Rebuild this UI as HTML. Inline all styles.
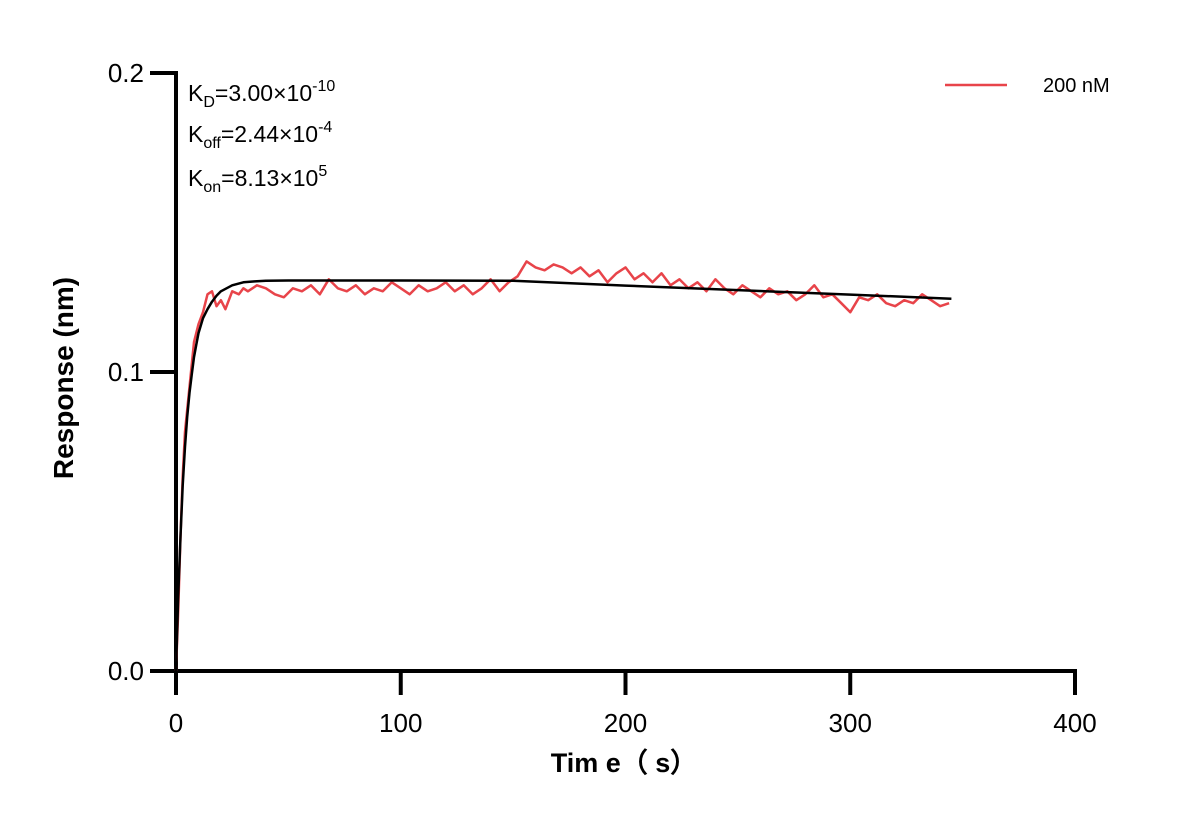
<!DOCTYPE html>
<html><head><meta charset="utf-8"><style>
html,body{margin:0;padding:0;background:#fff;}
svg{display:block;font-family:"Liberation Sans",Arial,sans-serif;}
</style></head><body>
<svg id="chart" width="1187" height="825">
<g id="axes"></g>
<g id="plot"></g>
<g font-size="23" fill="#000">
<text x="188" y="101">K<tspan font-size="16" dy="6">D</tspan><tspan dy="-6">=3.00×10</tspan><tspan font-size="16" dy="-10">-10</tspan></text>
<text x="188" y="142">K<tspan font-size="16" dy="6">off</tspan><tspan dy="-6">=2.44×10</tspan><tspan font-size="16" dy="-10">-4</tspan></text>
<text x="188" y="186">K<tspan font-size="16" dy="6">on</tspan><tspan dy="-6">=8.13×10</tspan><tspan font-size="16" dy="-10">5</tspan></text>
</g>
<g>
<line x1="945" y1="85" x2="1007" y2="85" stroke="#e8444a" stroke-width="2.5"/>
<text x="1043" y="92" font-size="20">200 nM</text>
</g>
<text transform="translate(73,378) rotate(-90)" text-anchor="middle" font-size="28" font-weight="bold">Response (nm)</text>
<text x="624" y="772" text-anchor="middle" font-size="27" font-weight="bold">Tim e（ s）</text>
</svg>
<script>
const xTicks=[0,100,200,300,400];
const yTicks=[0,0.1,0.2];
const yTickLabels=["0.0","0.1","0.2"];
const fitT=[0,1,2,3,4,5,6,7,8,9,10,12,14,16,18,20,25,30,35,40,50,100,150,200,250,300,345];
const fitR=[0,0.025,0.045,0.062,0.075,0.085,0.093,0.099,0.105,0.109,0.113,0.118,0.121,0.1235,0.1255,0.127,0.129,0.130,0.1303,0.1305,0.1306,0.1306,0.1305,0.1289,0.1274,0.1259,0.1245];
const dataT=[0,1,2,3,4,6,8,10,12,14,16,18,20,22,25,28,30,32,36,40,44,48,52,56,60,64,68,72,76,80,84,88,92,96,100,104,108,112,116,120,124,128,132,136,140,144,148,152,156,160,164,168,172,176,180,184,188,192,196,200,204,208,212,216,220,224,228,232,236,240,244,248,252,256,260,264,268,272,276,280,284,288,292,296,300,304,308,312,316,320,324,328,332,336,340,344];
const dataR=[0,0.02,0.045,0.065,0.08,0.095,0.11,0.116,0.12,0.126,0.127,0.122,0.124,0.121,0.127,0.126,0.128,0.127,0.129,0.128,0.126,0.125,0.128,0.127,0.129,0.126,0.131,0.128,0.127,0.129,0.126,0.128,0.127,0.130,0.128,0.126,0.129,0.127,0.128,0.130,0.127,0.129,0.126,0.128,0.131,0.127,0.130,0.132,0.137,0.135,0.134,0.136,0.135,0.133,0.135,0.132,0.134,0.130,0.133,0.135,0.131,0.133,0.130,0.133,0.129,0.131,0.128,0.130,0.127,0.131,0.128,0.126,0.129,0.127,0.125,0.128,0.126,0.127,0.124,0.126,0.129,0.125,0.126,0.123,0.120,0.125,0.124,0.126,0.123,0.122,0.124,0.123,0.126,0.124,0.122,0.123];
const NS="http://www.w3.org/2000/svg";
const X=t=>176+t*(1075-176)/400;
const Y=r=>671-r*(671-73)/0.2;
function mk(tag,attrs,parent){const e=document.createElementNS(NS,tag);for(const k in attrs)e.setAttribute(k,attrs[k]);parent.appendChild(e);return e;}
const axes=document.getElementById('axes'),plot=document.getElementById('plot');
let e=mk('line',{x1:X(0),y1:Y(0.2)-2,x2:X(0),y2:695,stroke:'#000','stroke-width':4},axes);


e=mk('line',{x1:150,y1:Y(0),x2:X(400)+2,y2:Y(0),stroke:'#000','stroke-width':4},axes);


xTicks.forEach(v=>{
 let t=mk('line',{x1:X(v),y1:Y(0),x2:X(v),y2:695,stroke:'#000','stroke-width':4},axes);
 
 
 let l=mk('text',{x:X(v),y:732,'text-anchor':'middle','font-size':26},axes);l.textContent=v;
 
 
});
yTicks.forEach((v,i)=>{
 let t=mk('line',{x1:150,y1:Y(v),x2:X(0),y2:Y(v),stroke:'#000','stroke-width':4},axes);
 
 
 let l=mk('text',{x:144,y:Y(v)+9,'text-anchor':'end','font-size':26},axes);l.textContent=yTickLabels[i];
 
 
});
let d=dataT.map((t,i)=>(i?'L':'M')+X(t).toFixed(1)+','+Y(dataR[i]).toFixed(1)).join('');
let p=mk('path',{d:d,fill:'none',stroke:'#e8444a','stroke-width':2.5,'stroke-linejoin':'round'},plot);


d=fitT.map((t,i)=>(i?'L':'M')+X(t).toFixed(1)+','+Y(fitR[i]).toFixed(1)).join('');
p=mk('path',{d:d,fill:'none',stroke:'#000','stroke-width':2.5,'stroke-linejoin':'round'},plot);


</script>
</body></html>
